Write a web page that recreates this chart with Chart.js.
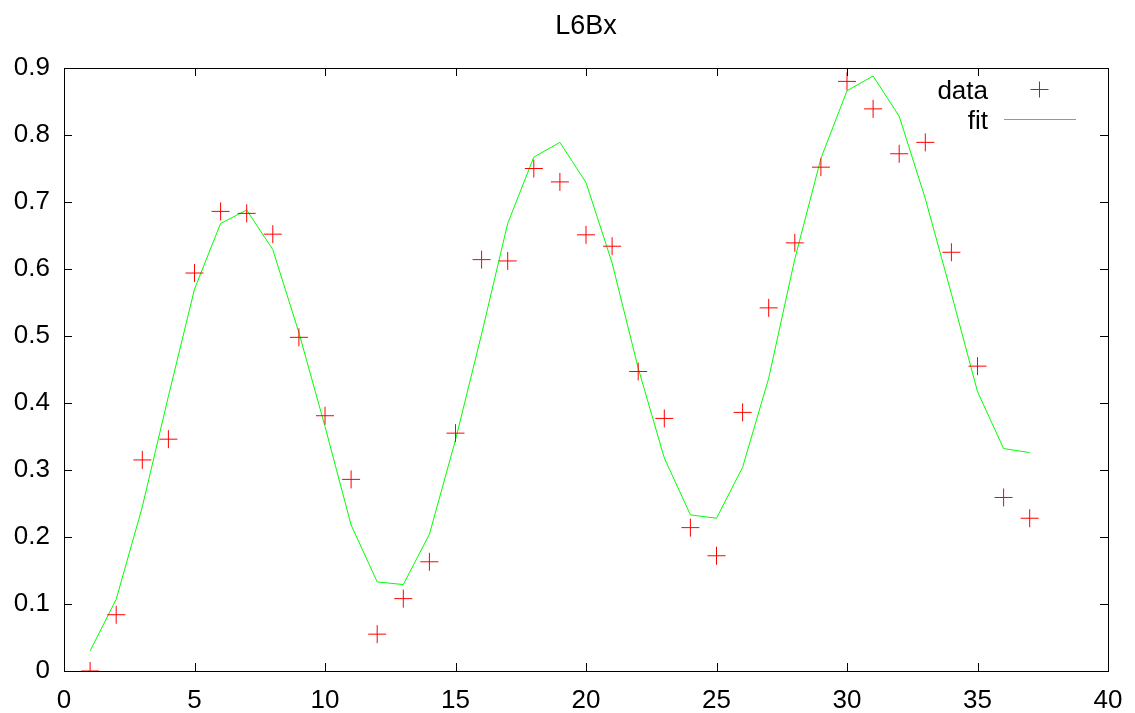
<!DOCTYPE html>
<html>
<head>
<meta charset="utf-8">
<title>L6Bx</title>
<script src="https://cdn.jsdelivr.net/npm/chart.js@4"></script>
<style>
  body { margin: 0; background: #fff; }
  #wrap { width: 1135px; height: 713px; }
</style>
</head>
<body>
<div id="wrap"><canvas id="myChart"></canvas></div>
<script>
// data
var xValues = [1,2,3,4,5,6,7,8,9,10,11,12,13,14,15,16,17,18,19,20,21,22,23,24,25,26,27,28,29,30,31,32,33,34,35,36,37];
var dataValues = [0.000,0.084,0.315,0.346,0.594,0.686,0.683,0.652,0.498,0.381,0.286,0.055,0.108,0.163,0.355,0.614,0.612,0.750,0.730,0.651,0.634,0.447,0.377,0.214,0.172,0.386,0.542,0.639,0.752,0.880,0.839,0.772,0.789,0.625,0.455,0.259,0.228];
var fitValues = [0.030,0.107,0.245,0.410,0.570,0.668,0.688,0.629,0.505,0.365,0.218,0.133,0.129,0.204,0.345,0.503,0.668,0.767,0.789,0.729,0.609,0.452,0.318,0.233,0.228,0.304,0.437,0.615,0.765,0.866,0.888,0.828,0.705,0.563,0.417,0.332,0.326];
var xTicks = [0,5,10,15,20,25,30,35,40];
var yTicks = [0,0.1,0.2,0.3,0.4,0.5,0.6,0.7,0.8,0.9];
var seriesNames = ['data', 'fit'];
var chartTitle = 'L6Bx';

var FONT = 'Liberation Sans, Arial, sans-serif';

function toPoints(xs, ys) {
  var pts = [];
  for (var i = 0; i < xs.length; i++) pts.push({x: xs[i], y: ys[i]});
  return pts;
}

// gnuplot style frame, inward ticks on all sides, title and key
var gnuplotFrame = {
  id: 'gnuplotFrame',
  afterDatasetsDraw: function(chart) {
    var ctx = chart.ctx;
    var a = chart.chartArea;
    var xs = chart.scales.x, ys = chart.scales.y;
    var len = 8;
    ctx.save();
    ctx.strokeStyle = '#000';
    ctx.lineWidth = 1;
    ctx.beginPath();
    xTicks.forEach(function(v) {
      var px = Math.round(xs.getPixelForValue(v)) + 0.5;
      ctx.moveTo(px, a.bottom); ctx.lineTo(px, a.bottom - len);
      ctx.moveTo(px, a.top); ctx.lineTo(px, a.top + len);
    });
    yTicks.forEach(function(v) {
      var py = Math.round(ys.getPixelForValue(v)) + 0.5;
      ctx.moveTo(a.left, py); ctx.lineTo(a.left + len, py);
      ctx.moveTo(a.right, py); ctx.lineTo(a.right - len, py);
    });
    ctx.stroke();
    ctx.strokeRect(Math.round(a.left) + 0.5, Math.round(a.top) + 0.5,
                   Math.round(a.right - a.left), Math.round(a.bottom - a.top));

    // title, centred over the plot area
    ctx.fillStyle = '#000';
    ctx.font = '27px ' + FONT;
    ctx.textAlign = 'center';
    ctx.textBaseline = 'alphabetic';
    ctx.fillText(chartTitle, (a.left + a.right) / 2, 34);

    // key
    var textRight = a.right - 120;
    ctx.font = '26px ' + FONT;
    ctx.textAlign = 'right';
    ctx.fillText(seriesNames[0], textRight, a.top + 31);
    ctx.fillText(seriesNames[1], textRight, a.top + 61);

    var cx = a.right - 68.5, cy = a.top + 21.5;
    ctx.strokeStyle = '#ff0000';
    ctx.beginPath();
    ctx.moveTo(cx - 9, cy); ctx.lineTo(cx + 9, cy);
    ctx.moveTo(cx, cy - 8); ctx.lineTo(cx, cy + 8);
    ctx.stroke();

    ctx.strokeStyle = '#00ff00';
    ctx.beginPath();
    ctx.moveTo(a.right - 104, a.top + 51.5);
    ctx.lineTo(a.right - 32, a.top + 51.5);
    ctx.stroke();
    ctx.restore();
  }
};

var ctx = document.getElementById('myChart').getContext('2d');
var myChart = new Chart(ctx, {
  type: 'scatter',
  data: {
    datasets: [{
      label: seriesNames[0],
      data: toPoints(xValues, dataValues),
      pointStyle: 'cross',
      pointRadius: 9,
      pointBorderWidth: 1,
      borderColor: '#ff0000',
      backgroundColor: '#ff0000',
      showLine: false
    }, {
      label: seriesNames[1],
      data: toPoints(xValues, fitValues),
      showLine: true,
      pointRadius: 0,
      borderColor: '#00ff00',
      borderWidth: 1,
      tension: 0
    }]
  },
  options: {
    responsive: true,
    maintainAspectRatio: false,
    animation: false,
    layout: { padding: { left: 0, right: 27, top: 68, bottom: 0 } },
    plugins: {
      legend: { display: false },
      tooltip: { enabled: false },
      title: { display: false }
    },
    scales: {
      x: {
        type: 'linear',
        min: 0, max: 40,
        grid: { display: false },
        border: { display: false },
        afterBuildTicks: function(scale) {
          scale.ticks = xTicks.map(function(v) { return {value: v}; });
        },
        afterFit: function(scale) { scale.height = 42; },
        ticks: {
          color: '#000',
          padding: 6,
          font: { family: FONT, size: 26 },
          maxRotation: 0,
          autoSkip: false
        }
      },
      y: {
        type: 'linear',
        min: 0, max: 0.9,
        grid: { display: false },
        border: { display: false },
        afterBuildTicks: function(scale) {
          scale.ticks = yTicks.map(function(v) { return {value: v}; });
        },
        afterFit: function(scale) { scale.width = 64; },
        ticks: {
          color: '#000',
          padding: 6,
          font: { family: FONT, size: 26 },
          callback: function(v) { return String(+v.toFixed(1)); }
        }
      }
    }
  },
  plugins: [gnuplotFrame]
});
</script>
</body>
</html>
